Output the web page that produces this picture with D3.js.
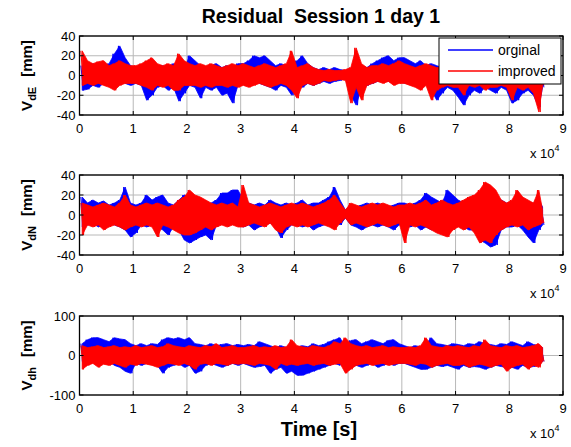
<!DOCTYPE html>
<html>
<head>
<meta charset="utf-8">
<script src="https://cdn.jsdelivr.net/npm/d3@7"></script>
<style>
  body { margin: 0; background: #fff; }
  text { font-family: Arial, "Liberation Sans", sans-serif; white-space: pre; }
</style>
</head>
<body>
<svg id="svg"></svg>
<script>
// time axis, in units of 10^4 s
const xTicks = [0, 1, 2, 3, 4, 5, 6, 7, 8, 9];
const binSize = 1000;     // s, one envelope value per bin
const tEnd = 86400;       // s, last sample

// V_dE envelopes (max / min per 1000 s bin), mm
const eOrigHi = [10,8,12,10,9,12,22,30,18,10, 8,10,12,6,8,10,8,12,10,6, 20,15,10,8,10,12,8,10,8,12,
  12,15,20,18,20,15,10,12,10,12, 15,20,12,8,6,8,6,8,6,5, 6,8,10,8,12,15,18,20,15,18,
  18,15,12,15,10,12,10,8,6,5, 5,2,3,5,3,4,5,3,5,4, 3,2,3,5,2,0,2];
const eOrigLo = [-15,-14,-10,-12,-8,-6,-5,-3,-8,-10, -8,-10,-25,-20,-12,-10,-15,-12,-26,-18, -10,-12,-23,-12,-15,-12,-20,-18,-28,-10,
  -8,-10,-5,-8,-10,-12,-15,-10,-12,-20, -10,-12,-8,-10,-8,-6,-8,-6,-5,-3, -20,-30,-12,-10,-8,-6,-5,-6,-8,-5,
  -8,-6,-10,-12,-8,-15,-25,-18,-12,-15, -22,-30,-20,-15,-18,-12,-15,-18,-12,-15, -28,-25,-18,-15,-20,-32,-12];
const eImprHi = [25,15,12,14,15,10,12,15,12,10, 10,12,15,18,12,10,12,10,22,15, 12,10,12,10,12,10,8,10,12,10,
  12,10,8,10,12,10,8,10,12,25, 8,10,12,8,6,5,6,5,5,6, 8,28,12,8,10,10,12,10,12,15,
  12,10,8,10,12,10,8,8,8,8, 5,3,5,3,5,3,5,3,5,3, 3,2,3,4,2,3,2];
const eImprLo = [-10,-8,-10,-8,-10,-12,-15,-10,-8,-8, -8,-10,-12,-15,-10,-12,-10,-15,-15,-10, -10,-10,-12,-10,-12,-10,-10,-12,-10,-12,
  -10,-12,-10,-8,-10,-12,-10,-8,-10,-15, -23,-10,-8,-10,-8,-5,-6,-5,-4,-5, -28,-12,-25,-10,-8,-6,-8,-6,-10,-8,
  -8,-10,-12,-15,-10,-25,-15,-12,-10,-12, -12,-20,-10,-12,-10,-15,-12,-12,-10,-12, -25,-12,-15,-12,-18,-37,-10];

// V_dN envelopes, mm
const nOrigHi = [18,12,15,12,14,10,12,15,28,12, 10,12,20,15,18,20,12,10,15,20, 18,15,12,10,12,15,22,22,25,25,
  15,12,10,12,10,15,12,10,12,10, 12,15,10,12,12,15,18,28,15,5, 10,8,10,12,10,12,10,8,10,12,
  12,10,12,15,22,18,15,12,25,20, 15,12,10,12,15,20,22,18,15,12, 12,15,12,10,12,15,8];
const nOrigLo = [-12,-10,-8,-12,-10,-8,-10,-12,-15,-22, -18,-10,-12,-10,-12,-15,-20,-12,-15,-25, -28,-25,-22,-20,-25,-10,-8,-5,-8,-10,
  -12,-10,-15,-12,-10,-8,-12,-23,-15,-10, -10,-12,-10,-15,-12,-10,-8,-5,-10,-3, -10,-12,-15,-12,-10,-12,-10,-12,-15,-10,
  -10,-12,-10,-15,-12,-15,-12,-15,-10,-12, -10,-12,-15,-15,-25,-28,-32,-30,-15,-12, -12,-10,-15,-22,-28,-15,-10];
const nImprHi = [12,10,8,10,12,10,8,12,20,10, 8,10,12,10,12,10,8,10,15,18, 25,20,18,15,12,10,12,10,12,8,
  30,12,10,8,10,12,10,8,10,12, 10,12,10,8,10,12,15,20,12,5, 12,10,8,10,12,10,12,10,8,10,
  10,12,10,12,15,10,12,15,12,10, 12,15,18,20,25,33,30,25,15,12, 15,25,18,15,12,25,5];
const nImprLo = [-20,-10,-12,-10,-15,-12,-10,-12,-15,-12, -10,-12,-10,-12,-22,-10,-12,-15,-18,-20, -20,-18,-15,-12,-15,-12,-10,-12,-10,-12,
  -12,-10,-8,-10,-12,-8,-15,-18,-12,-10, -12,-10,-12,-10,-8,-10,-12,-15,-8,-3, -10,-8,-10,-12,-10,-8,-10,-12,-10,-8,
  -28,-10,-12,-10,-12,-15,-18,-20,-22,-15, -12,-15,-12,-18,-28,-25,-28,-20,-15,-12, -10,-12,-10,-15,-12,-10,-8];

// V_dh envelopes, mm
const hOrigHi = [30,40,45,45,40,35,45,42,40,30, 25,30,25,30,28,40,45,42,45,40, 45,30,28,25,30,25,28,30,25,28,
  25,28,25,35,30,25,20,25,20,22, 20,25,22,30,25,28,35,40,45,20, 38,40,30,35,40,35,30,38,40,30,
  25,20,25,22,30,45,30,28,25,30, 28,25,30,28,35,30,28,25,30,28, 35,30,25,35,28,25,20];
const hOrigLo = [-15,-20,-10,-12,-20,-15,-25,-30,-40,-45, -20,-25,-20,-15,-25,-45,-30,-25,-20,-30, -25,-45,-40,-25,-20,-25,-30,-25,-20,-25,
  -20,-25,-30,-28,-25,-45,-35,-30,-45,-40, -50,-50,-45,-40,-35,-30,-25,-20,-25,-10, -30,-25,-30,-25,-20,-30,-25,-20,-25,-20,
  -20,-25,-30,-35,-35,-30,-25,-28,-25,-30, -35,-25,-30,-28,-30,-35,-30,-25,-28,-30, -30,-35,-25,-30,-28,-25,-15];
const hImprHi = [25,20,22,25,20,22,25,20,22,20, 25,20,22,25,20,22,30,25,22,20, 25,22,20,25,22,30,20,22,25,20,
  20,22,25,20,22,20,25,20,22,40, 25,22,20,25,22,20,25,35,30,45, 30,25,22,25,20,22,25,20,22,20,
  20,22,20,25,45,25,22,20,25,22, 25,22,20,25,22,40,25,22,20,25, 22,25,20,22,25,30,20];
const hImprLo = [-35,-25,-20,-30,-22,-25,-20,-25,-30,-22, -25,-20,-22,-25,-30,-25,-20,-22,-25,-20, -25,-35,-22,-20,-25,-20,-22,-25,-20,-22,
  -20,-22,-25,-20,-22,-25,-35,-20,-25,-22, -25,-22,-20,-25,-22,-20,-25,-22,-20,-45, -35,-25,-22,-20,-25,-22,-20,-25,-22,-20,
  -20,-22,-25,-20,-22,-30,-25,-22,-20,-25, -25,-22,-30,-25,-22,-25,-30,-25,-22,-40, -30,-25,-22,-35,-25,-30,-15];

const seriesNames = ["orginal", "improved"];
const seriesColors = ["#0000ff", "#ff0000"];

const panels = [
  { sub: "dE", yTicks: [-40, -20, 0, 20, 40], hi: [eOrigHi, eImprHi], lo: [eOrigLo, eImprLo], top: 36, h: 79 },
  { sub: "dN", yTicks: [-40, -20, 0, 20, 40], hi: [nOrigHi, nImprHi], lo: [nOrigLo, nImprLo], top: 175, h: 80 },
  { sub: "dh", yTicks: [-100, 0, 100], hi: [hOrigHi, hImprHi], lo: [hOrigLo, hImprLo], top: 316, h: 79 }
];

const W = 571, H = 447;
const left = 79.5, right = 563;

const svg = d3.select("#svg").attr("width", W).attr("height", H);

const x = d3.scaleLinear().domain([0, 90000]).range([left, right]);

// one point per bin: centre time, max, min
function bins(hi, lo) {
  return hi.map((v, i) => {
    let t0 = i * binSize;
    let t1 = Math.min(t0 + binSize, tEnd);
    return { t: (t0 + t1) / 2, hi: v, lo: lo[i] };
  });
}

panels.forEach((p, k) => {
  const y = d3.scaleLinear().domain(d3.extent(p.yTicks)).range([p.top + p.h, p.top]);
  const g = svg.append("g");

  g.append("clipPath").attr("id", "clip" + k)
    .append("rect").attr("x", left).attr("y", p.top).attr("width", right - left).attr("height", p.h);

  // grid
  g.selectAll(".vg").data(xTicks).enter().append("line")
    .attr("x1", d => x(d * 1e4)).attr("x2", d => x(d * 1e4))
    .attr("y1", p.top).attr("y2", p.top + p.h)
    .attr("stroke", "#b8b8b8").attr("stroke-width", 1);
  g.selectAll(".hg").data(p.yTicks).enter().append("line")
    .attr("x1", left).attr("x2", right)
    .attr("y1", d => y(d)).attr("y2", d => y(d))
    .attr("stroke", "#b8b8b8").attr("stroke-width", 1);

  const band = d3.area().x(d => x(d.t)).y0(d => y(d.lo)).y1(d => y(d.hi));
  const edge = d3.line().x(d => x(d[0])).y(d => y(d[1]));
  const plot = g.append("g").attr("clip-path", "url(#clip" + k + ")");
  [0, 1].forEach(s => {
    const data = bins(p.hi[s], p.lo[s]);
    plot.append("path").datum(data)
      .attr("fill", seriesColors[s]).attr("stroke", seriesColors[s]).attr("stroke-width", 0.8)
      .attr("d", band);
    // spikes at each bin's extremes
    const zz = [];
    data.forEach(d => { zz.push([d.t - 250, d.hi]); zz.push([d.t + 250, d.lo]); });
    plot.append("path").datum(zz)
      .attr("fill", "none").attr("stroke", seriesColors[s]).attr("stroke-width", 1)
      .attr("d", edge);
  });

  // box + inward ticks
  g.append("rect").attr("x", left).attr("y", p.top).attr("width", right - left).attr("height", p.h)
    .attr("fill", "none").attr("stroke", "#000").attr("stroke-width", 1.3);
  xTicks.forEach(d => {
    g.append("line").attr("x1", x(d * 1e4)).attr("x2", x(d * 1e4))
      .attr("y1", p.top + p.h).attr("y2", p.top + p.h - 4).attr("stroke", "#000");
    g.append("line").attr("x1", x(d * 1e4)).attr("x2", x(d * 1e4))
      .attr("y1", p.top).attr("y2", p.top + 4).attr("stroke", "#000");
  });
  p.yTicks.forEach(d => {
    g.append("line").attr("x1", left).attr("x2", left + 4)
      .attr("y1", y(d)).attr("y2", y(d)).attr("stroke", "#000");
    g.append("line").attr("x1", right).attr("x2", right - 4)
      .attr("y1", y(d)).attr("y2", y(d)).attr("stroke", "#000");
  });

  // tick labels
  g.selectAll(".xl").data(xTicks).enter().append("text")
    .attr("x", d => x(d * 1e4)).attr("y", p.top + p.h + 18)
    .attr("text-anchor", "middle").attr("font-size", 13).text(d => d);
  g.selectAll(".yl").data(p.yTicks).enter().append("text")
    .attr("x", left - 4).attr("y", d => y(d)).attr("dy", "0.36em")
    .attr("text-anchor", "end").attr("font-size", 13).text(d => d);

  // x 10^4
  const ex = g.append("text").attr("x", 530).attr("y", p.top + p.h + 43).attr("font-size", 13);
  ex.append("tspan").text("x 10");
  ex.append("tspan").attr("dy", -7).attr("font-size", 9).text("4");

  // y label
  const yl = g.append("text").attr("transform", `translate(32,${p.top + p.h / 2}) rotate(-90)`)
    .attr("text-anchor", "middle").attr("font-size", 15).attr("font-weight", "bold");
  yl.append("tspan").text("V");
  yl.append("tspan").attr("dy", 4).attr("font-size", 11).text(p.sub);
  yl.append("tspan").attr("dy", -4).attr("dx", 10).text("[mm]");
});

// title + x label
svg.append("text").attr("x", 321).attr("y", 23).attr("text-anchor", "middle")
  .attr("font-size", 19.5).attr("font-weight", "bold").text("Residual  Session 1 day 1");
svg.append("text").attr("x", 319).attr("y", 436).attr("text-anchor", "middle")
  .attr("font-size", 20).attr("font-weight", "bold").text("Time [s]");

// legend
const leg = svg.append("g");
leg.append("rect").attr("x", 439).attr("y", 38).attr("width", 122).attr("height", 46)
  .attr("fill", "#fff").attr("stroke", "#000").attr("stroke-width", 1);
seriesNames.forEach((name, i) => {
  const ly = 50 + i * 21;
  leg.append("line").attr("x1", 448).attr("x2", 493).attr("y1", ly).attr("y2", ly)
    .attr("stroke", seriesColors[i]).attr("stroke-width", 1.3);
  leg.append("text").attr("x", 498).attr("y", ly).attr("dy", "0.36em")
    .attr("font-size", 14).text(name);
});
</script>
</body>
</html>
